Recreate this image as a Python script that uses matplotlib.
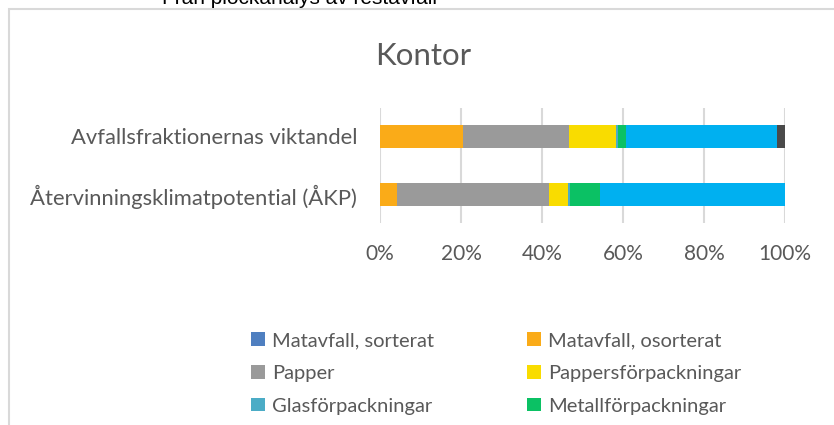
import matplotlib
matplotlib.use("Agg")
import matplotlib.pyplot as plt
from matplotlib.patches import Rectangle

categories = ["Återvinningsklimatpotential (ÅKP)", "Avfallsfraktionernas viktandel"]
series_names = ["Matavfall, sorterat", "Matavfall, osorterat", "Papper",
                "Pappersförpackningar", "Glasförpackningar", "Metallförpackningar",
                "Plastförpackningar", "Övrigt"]
# values per series: [ÅKP, viktandel] in %
matavfall_sorterat = [0.0, 0.0]
matavfall_osorterat = [4.1, 20.6]
papper = [37.6, 26.1]
pappersforp = [4.7, 11.6]
glasforp = [0.4, 0.4]
metallforp = [7.4, 2.0]
plastforp = [45.8, 37.3]
ovrigt = [0.0, 2.0]
series_values = [matavfall_sorterat, matavfall_osorterat, papper, pappersforp,
                 glasforp, metallforp, plastforp, ovrigt]
colors = ["#4F7FC0", "#FAAB18", "#9A9A9A", "#F9DC00", "#4BACC6", "#0BC164",
          "#00B0F0", "#4A4A4A"]
xticks = [0, 20, 40, 60, 80, 100]
xtick_labels = ["0%", "20%", "40%", "60%", "80%", "100%"]

W, H = 834, 425
fig = plt.figure(figsize=(W / 100, H / 100), dpi=100)
fig.patch.set_facecolor("white")

# chart-area frame (right and bottom edges outside crop)
fig.add_artist(Rectangle((9 / W, -0.1), 1.2, (H - 9) / H + 0.1, transform=fig.transFigure,
                         fill=False, edgecolor="#D9D9D9", linewidth=1.5))

fig.text(300 / W, 1 - 4 / H, "Från plockanalys av restavfall", ha="center", va="baseline",
         fontsize=15, color="black", family="Liberation Sans")

fig.text(423 / W, 1 - 65 / H, "Kontor", ha="center", va="baseline", fontsize=22.5,
         color="#595959", family="Lato")

ax = fig.add_axes([380 / W, (H - 223) / H, 405 / W, 115 / H])
ypos = list(range(len(categories)))
left = [0.0] * len(categories)
for name, vals, c in zip(series_names, series_values, colors):
    ax.barh(ypos, vals, left=left, height=0.397, color=c, label=name, zorder=3)
    left = [l + v for l, v in zip(left, vals)]

ax.set_xlim(0, 100)
ax.set_ylim(-0.492, 1.491)
ax.set_xticks(xticks)
ax.set_xticklabels(xtick_labels)
ax.set_yticks(ypos)
ax.set_yticklabels(categories)
ax.tick_params(axis="both", length=0, colors="#595959")
ax.tick_params(axis="y", pad=16.5, labelsize=15.8)
ax.tick_params(axis="x", pad=15, labelsize=15)
for lab in ax.get_xticklabels() + ax.get_yticklabels():
    lab.set_family("Lato")
ax.grid(axis="x", color="#D9D9D9", linewidth=1.5, zorder=0)
for s in ax.spines.values():
    s.set_visible(False)

handles, labels = ax.get_legend_handles_labels()
# visible legend rows (row-wise order as in the reference: 2 columns, 3 rows)
order = [0, 2, 4, 1, 3, 5]
leg = fig.legend([handles[i] for i in order], [labels[i] for i in order], ncol=2,
                 loc="upper left", bbox_to_anchor=(233 / W, 1 - 314 / H), frameon=False,
                 prop={"family": "Lato", "size": 14.5}, labelcolor="#595959",
                 handlelength=0.68, handleheight=0.68, handletextpad=0.38,
                 columnspacing=4.6, labelspacing=0.78)

fig.savefig("out.png", dpi=100, facecolor="white")
